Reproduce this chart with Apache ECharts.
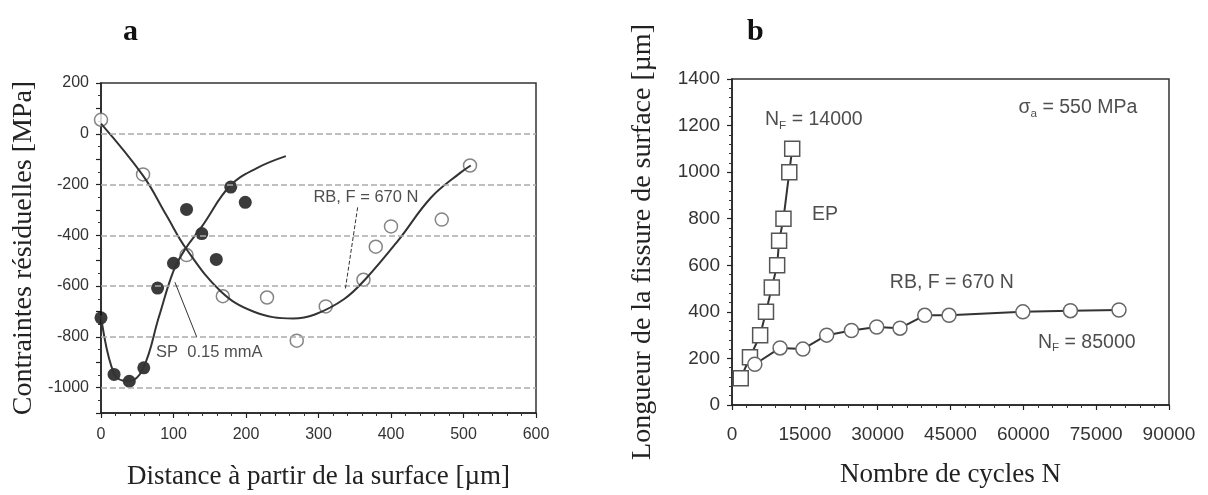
<!DOCTYPE html>
<html>
<head>
<meta charset="utf-8">
<script src="https://cdn.jsdelivr.net/npm/echarts@6/dist/echarts.min.js"></script>
<style>
  html, body { margin: 0; background: #fff; }
  #chart { width: 1208px; height: 495px; }
</style>
</head>
<body>
<div id="chart"></div>
<script>
// --- a : contraintes résiduelles vs distance ---
const xTicksA = [0, 100, 200, 300, 400, 500, 600];
const yGridA = [0, -200, -400, -600, -800, -1000];
const rbPointsA = [[0, 55], [58, -160], [118, -478], [168, -640], [229, -645], [270, -815],
  [310, -680], [362, -575], [379, -445], [400, -365], [470, -338], [509, -125]];
const rbCurveA = [[0, 40], [58, -165], [90, -320], [118, -455], [165, -620], [210, -700],
  [265, -728], [295, -712], [335, -652], [365, -572], [410, -420], [455, -252], [495, -155], [510, -125]];
const spPointsA = [[0, -725], [18, -948], [39, -975], [59, -922], [78, -608], [100, -510],
  [118, -298], [139, -393], [159, -495], [179, -210], [199, -270]];
const spCurveA = [[0, -715], [18, -945], [38, -975], [58, -925], [80, -720], [100, -540],
  [116, -455], [140, -362], [178, -205], [215, -135], [255, -88]];
const notesA = [
  { text: 'RB, F = 670 N', at: [293, -250] },
  { text: 'SP  0.15 mmA', at: [76, -860] }
];
const rbLeaderA = [[354, -290], [337, -612]];
const spLeaderA = [[102, -585], [132, -800]];

// --- b : longueur de fissure vs nombre de cycles ---
const epCycles = [1800, 3700, 5800, 7000, 8200, 9300, 9700, 10600, 11800, 12400];
const epLength = [115, 205, 300, 400, 505, 600, 705, 800, 1000, 1100];
const rbCycles = [4700, 9900, 14600, 19500, 24600, 29800, 34600, 39700, 44700, 59900, 69700, 79700];
const rbLength = [175, 245, 240, 300, 320, 335, 330, 385, 385, 400, 405, 408];
const notesB = [
  { text: 'N{s|F} = 14000', at: [6800, 1224] },
  { text: 'σ{s|a} = 550 MPa', at: [59000, 1275] },
  { text: 'EP', at: [16500, 816] },
  { text: 'RB, F = 670 N', at: [32500, 524] },
  { text: 'N{s|F} = 85000', at: [63000, 268] }
];

const ink = '#222';
const sans = 'Liberation Sans';
const serif = 'Liberation Serif';

const axisCommon = (fontSize, margin) => ({
  axisLine: { show: true, onZero: false, lineStyle: { color: ink, width: 1.5 } },
  axisTick: { show: true, length: 5, lineStyle: { color: ink, width: 1.2 } },
  minorTick: { show: true, splitNumber: 5, length: 3, lineStyle: { color: '#333' } },
  splitLine: { show: false },
  axisLabel: { color: '#333', fontFamily: sans, fontSize, margin, formatter: v => String(v) },
  nameLocation: 'middle',
  nameTextStyle: { fontFamily: serif, color: ink }
});

const noteSeries = (notes, xAxisIndex, fontSize, leaders) => ({
  type: 'scatter',
  xAxisIndex, yAxisIndex: xAxisIndex,
  symbolSize: 0,
  silent: true,
  data: notes.map(n => ({
    value: n.at,
    label: { formatter: n.text }
  })),
  label: {
    show: true, position: 'right', distance: 0,
    color: '#222', fontFamily: sans, fontSize,
    rich: { s: { fontSize: fontSize * 0.6, padding: [fontSize * 0.55, 0, 0, 0], color: '#222', fontFamily: sans } }
  },
  markLine: leaders ? {
    silent: true, symbol: 'none', animation: false,
    label: { show: false },
    data: leaders.map(l => [
      { coord: l.pts[0], lineStyle: { type: l.dash ? 'dashed' : 'solid', color: '#333', width: 1 } },
      { coord: l.pts[1] }
    ])
  } : undefined
});

const chart = echarts.init(document.getElementById('chart'));
chart.setOption({
  animation: false,
  backgroundColor: '#fff',
  title: [
    { text: 'a', left: 118, top: 12, textStyle: { fontFamily: serif, fontWeight: 'bold', fontSize: 30, color: '#111' } },
    { text: 'b', left: 742, top: 12, textStyle: { fontFamily: serif, fontWeight: 'bold', fontSize: 30, color: '#111' } }
  ],
  grid: [
    { left: 101, top: 83, width: 435, height: 335, show: true, borderColor: '#333', borderWidth: 1.5 },
    { left: 732, top: 79, width: 437, height: 326, show: true, borderColor: '#333', borderWidth: 1.5 }
  ],
  xAxis: [
    Object.assign(axisCommon(16, 14), {
      gridIndex: 0, type: 'value', min: xTicksA[0], max: xTicksA[xTicksA.length - 1], interval: 100,
      name: 'Distance à partir de la surface [µm]', nameGap: 50,
      nameTextStyle: { fontFamily: serif, color: ink, fontSize: 27 }
    }),
    Object.assign(axisCommon(19, 20), {
      gridIndex: 1, type: 'value', min: 0, max: 90000, interval: 15000,
      name: 'Nombre de cycles N', nameGap: 56,
      nameTextStyle: { fontFamily: serif, color: ink, fontSize: 27 }
    })
  ],
  yAxis: [
    Object.assign(axisCommon(16, 12), {
      gridIndex: 0, type: 'value', min: -1100, max: 200, interval: 100,
      minorTick: { show: true, splitNumber: 2, length: 3, lineStyle: { color: '#333' } },
      axisLabel: {
        color: '#333', fontFamily: sans, fontSize: 16, margin: 12,
        formatter: v => (v % 200 === 0 ? String(v) : '')
      },
      name: 'Contraintes résiduelles [MPa]', nameGap: 63,
      nameTextStyle: { fontFamily: serif, color: ink, fontSize: 28 }
    }),
    Object.assign(axisCommon(19, 12), {
      gridIndex: 1, type: 'value', min: 0, max: 1400, interval: 200,
      name: 'Longueur de la fissure de surface [µm]', nameGap: 75,
      nameTextStyle: { fontFamily: serif, color: ink, fontSize: 28 }
    })
  ],
  series: [
    {
      type: 'line', xAxisIndex: 0, yAxisIndex: 0, data: [], silent: true,
      markLine: {
        silent: true, symbol: 'none', animation: false, label: { show: false },
        lineStyle: { type: 'dashed', color: '#aaa', width: 1.5 },
        data: yGridA.map(v => ({ yAxis: v }))
      }
    },
    {
      type: 'line', xAxisIndex: 0, yAxisIndex: 0, data: rbCurveA, smooth: 0.4,
      showSymbol: false, lineStyle: { color: '#333', width: 2 }
    },
    {
      type: 'line', xAxisIndex: 0, yAxisIndex: 0, data: spCurveA, smooth: 0.4,
      showSymbol: false, lineStyle: { color: '#333', width: 2 }
    },
    {
      type: 'scatter', xAxisIndex: 0, yAxisIndex: 0, data: rbPointsA,
      symbol: 'circle', symbolSize: 13,
      itemStyle: { color: '#fff', borderColor: '#666', borderWidth: 1.5 }
    },
    {
      type: 'scatter', xAxisIndex: 0, yAxisIndex: 0, data: spPointsA,
      symbol: 'circle', symbolSize: 13, itemStyle: { color: '#0a0a0a' }
    },
    noteSeries(notesA, 0, 16.5, [
      { pts: rbLeaderA, dash: true },
      { pts: spLeaderA, dash: false }
    ]),
    {
      type: 'line', xAxisIndex: 1, yAxisIndex: 1,
      data: epCycles.map((c, i) => [c, epLength[i]]),
      symbol: 'rect', symbolSize: 15,
      lineStyle: { color: '#333', width: 2 },
      itemStyle: { color: '#fff', borderColor: '#555', borderWidth: 1.5 }
    },
    {
      type: 'line', xAxisIndex: 1, yAxisIndex: 1,
      data: rbCycles.map((c, i) => [c, rbLength[i]]),
      symbol: 'circle', symbolSize: 14,
      lineStyle: { color: '#333', width: 2 },
      itemStyle: { color: '#fff', borderColor: '#666', borderWidth: 1.5 }
    },
    noteSeries(notesB, 1, 19.5, null)
  ]
});
</script>
</body>
</html>
